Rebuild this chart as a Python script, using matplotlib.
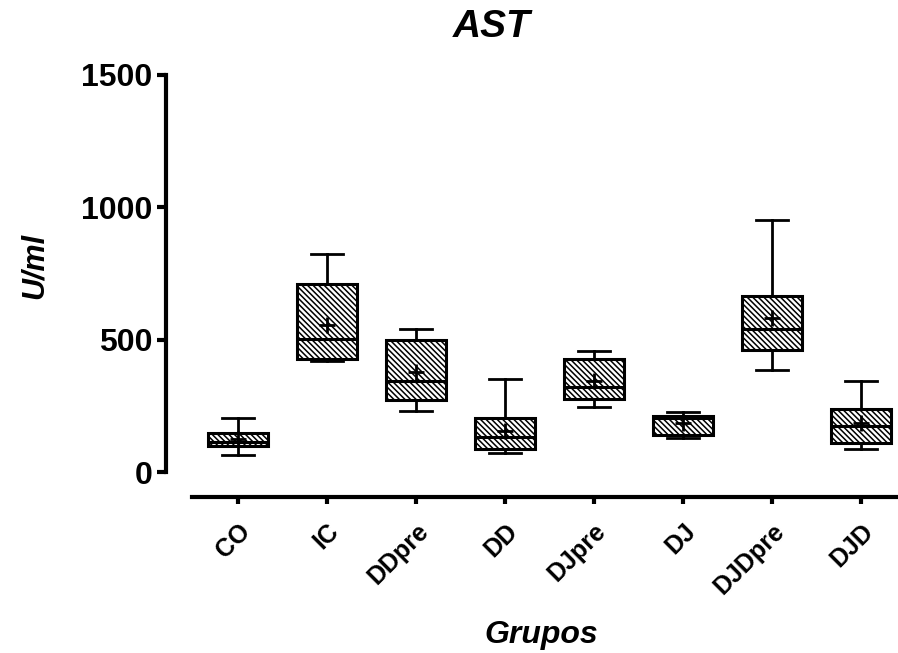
import matplotlib
matplotlib.use("Agg")
import matplotlib.pyplot as plt

plt.rcParams["font.family"] = ["Liberation Sans", "DejaVu Sans"]
plt.rcParams["hatch.linewidth"] = 1.1

groups = ["CO", "IC", "DDpre", "DD", "DJpre", "DJ", "DJDpre", "DJD"]
whis_lo = [65, 418, 231, 72, 246, 129, 386, 87]
q1 = [100, 428, 272, 87, 276, 140, 461, 110]
median = [112, 503, 344, 132, 321, 204, 541, 174]
q3 = [148, 712, 499, 204, 427, 212, 665, 238]
whis_hi = [203, 825, 540, 352, 457, 227, 953, 344]
means = [125, 557, 378, 155, 344, 185, 582, 185]
yticks = [0, 500, 1000, 1500]

stats = []
for i, g in enumerate(groups):
    stats.append({"label": g, "whislo": whis_lo[i], "q1": q1[i], "med": median[i],
                  "q3": q3[i], "whishi": whis_hi[i], "mean": means[i], "fliers": []})

fig = plt.figure(figsize=(8.98, 6.53), dpi=100)
ax = fig.add_axes([192 / 898, 1 - 472 / 653, 1 - 192 / 898, (472 - 75) / 653])

pos = list(range(len(groups)))
bp = ax.bxp(stats, positions=pos, widths=0.68, patch_artist=True, showmeans=True,
            boxprops=dict(facecolor="white", edgecolor="black", linewidth=2.2, hatch="\\\\\\\\\\\\"),
            medianprops=dict(color="black", linewidth=2.2),
            whiskerprops=dict(color="black", linewidth=2),
            capprops=dict(color="black", linewidth=2),
            capwidths=0.35,
            meanprops=dict(marker="+", markersize=12, markeredgewidth=2, markeredgecolor="black"))

for side in ["top", "right"]:
    ax.spines[side].set_visible(False)
ax.spines["left"].set_position(("outward", 19))
ax.spines["bottom"].set_position(("outward", 18))
ax.spines["left"].set_linewidth(3)
ax.spines["bottom"].set_linewidth(3)
ax.tick_params(axis="y", direction="out", length=6.5, width=3, pad=3)
ax.tick_params(axis="x", direction="out", length=5, width=3, pad=11)

ax.set_xlim(-0.517, 7.416)
ax.set_ylim(0, 1500)
ax.set_yticks(yticks, labels=[str(v) for v in yticks], fontsize=23, fontweight="bold")
ax.set_xticks(pos, labels=groups, rotation=45, ha="right", va="top", rotation_mode="anchor",
              fontsize=18, fontweight="bold")

fig.text(492 / 898, 1 - 27 / 653, "AST", ha="center", va="center",
         fontsize=28, fontweight="bold", fontstyle="italic")
fig.text(35 / 898, 1 - 266 / 653, "U/ml", ha="center", va="center", rotation=90,
         fontsize=22, fontweight="bold", fontstyle="italic")
fig.text(541 / 898, 1 - 635 / 653, "Grupos", ha="center", va="center",
         fontsize=23, fontweight="bold", fontstyle="italic")

fig.savefig("out.png", dpi=100)
